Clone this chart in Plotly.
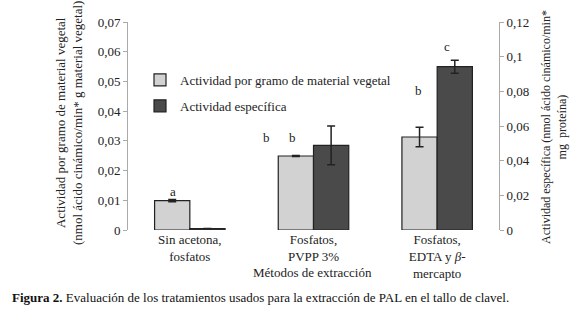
import plotly.graph_objects as go

categories = ["Sin acetona,<br>fosfatos", "Fosfatos,<br>PVPP 3%", "Fosfatos,<br>EDTA y <i>β</i>-<br>mercapto"]
act_gramo = [0.0099, 0.0249, 0.0313]
act_gramo_err = [0.0004, 0.0002, 0.0033]
act_especifica = [0.0008, 0.0488, 0.0942]
act_especifica_err = [0.0, 0.0112, 0.0038]
left_ticks = [0, 0.01, 0.02, 0.03, 0.04, 0.05, 0.06, 0.07]
left_ticktext = ["0", "0,01", "0,02", "0,03", "0,04", "0,05", "0,06", "0,07"]
right_ticks = [0, 0.02, 0.04, 0.06, 0.08, 0.1, 0.12]
right_ticktext = ["0", "0,02", "0,04", "0,06", "0,08", "0,1", "0,12"]
# significance letters: (category index, text, left-axis height, x shift px)
letters = [(0, "a", 0.0128, -17), (1, "b", 0.031, -47), (1, "b", 0.031, -21),
           (2, "b", 0.0471, -19), (2, "c", 0.0616, 10)]

FONT = "Liberation Serif"
TXT = "#222222"
FS = 13

fig = go.Figure()
fig.add_trace(go.Bar(
    x=categories, y=act_gramo, name="Actividad por gramo de material vegetal",
    marker=dict(color="#d2d2d2", line=dict(color="#222222", width=1.2)),
    error_y=dict(type="data", array=act_gramo_err, color="#222222", thickness=1.5, width=4),
    offsetgroup="1", yaxis="y", legendgroup="g1",
))
fig.add_trace(go.Bar(
    x=categories, y=act_especifica, name="Actividad específica",
    marker=dict(color="#4a4a4a", line=dict(color="#222222", width=1.2)),
    error_y=dict(type="data", array=act_especifica_err, color="#222222", thickness=1.5, width=4),
    offsetgroup="2", yaxis="y2", legendgroup="g2",
))

annotations = []
for ci, t, yv, xs in letters:
    annotations.append(dict(x=categories[ci], y=yv, xref="x", yref="y", text=t, showarrow=False,
                            xshift=xs, xanchor="center", yanchor="middle",
                            font=dict(family=FONT, size=FS, color=TXT)))

def px2paper(px, py):
    return (px - 128) / 371, (230 - py) / 208

ax, ay = px2paper(69, 123)
annotations.append(dict(x=ax, y=ay, xref="paper", yref="paper", textangle=-90, showarrow=False,
                        xanchor="center", yanchor="middle",
                        text="Actividad por gramo de material vegetal<br>(nmol ácido cinámico/min* g material vegetal)",
                        font=dict(family=FONT, size=FS, color=TXT)))
ax, ay = px2paper(554, 127)
annotations.append(dict(x=ax, y=ay, xref="paper", yref="paper", textangle=-90, showarrow=False,
                        xanchor="center", yanchor="middle",
                        text="Actividad específica (nmol ácido cinámico/min*<br>mg  proteína)",
                        font=dict(family=FONT, size=12, color=TXT)))
ax, ay = px2paper(312, 272)
annotations.append(dict(x=ax, y=ay, xref="paper", yref="paper", showarrow=False,
                        xanchor="center", yanchor="middle",
                        text="Métodos de extracción", font=dict(family=FONT, size=FS, color=TXT)))
ax, ay = px2paper(10, 297)
annotations.append(dict(x=ax, y=ay, xref="paper", yref="paper", showarrow=False, xanchor="left", yanchor="middle",
                        text="<b>Figura 2.</b> Evaluación de los tratamientos usados para la extracción de PAL en el tallo de clavel.",
                        font=dict(family=FONT, size=FS, color="#111111")))

lx, ly = px2paper(140, 65)

fig.update_layout(
    width=580, height=315,
    margin=dict(l=128, r=81, t=22, b=85, autoexpand=False),
    paper_bgcolor="white", plot_bgcolor="white",
    barmode="group", bargap=0.43, bargroupgap=0,
    font=dict(family=FONT, size=FS, color=TXT),
    showlegend=True,
    legend=dict(x=lx, y=ly, xanchor="left", yanchor="top", bgcolor="rgba(0,0,0,0)",
                font=dict(family=FONT, size=FS, color=TXT), tracegroupgap=6,
                traceorder="grouped", itemwidth=30),
    xaxis=dict(showline=False, ticks="", showgrid=False, automargin=False,
               tickfont=dict(family=FONT, size=FS, color=TXT)),
    yaxis=dict(range=[0, 0.07], tickvals=left_ticks, ticktext=left_ticktext, showgrid=False, zeroline=False,
               showline=True, linecolor="#aaaaaa", linewidth=1, ticks="outside", ticklen=4, tickcolor="#aaaaaa",
               automargin=False, tickfont=dict(family=FONT, size=FS, color=TXT)),
    yaxis2=dict(range=[0, 0.12], tickvals=right_ticks, ticktext=right_ticktext, overlaying="y", side="right",
                showgrid=False, zeroline=False, showline=True, linecolor="#aaaaaa", linewidth=1,
                ticks="outside", ticklen=4, tickcolor="#aaaaaa", automargin=False,
                tickfont=dict(family=FONT, size=FS, color=TXT)),
    annotations=annotations,
)

fig.write_html("out.html", config={"displayModeBar": False},
               post_script="document.body.style.margin='0';document.body.style.overflow='hidden';")
